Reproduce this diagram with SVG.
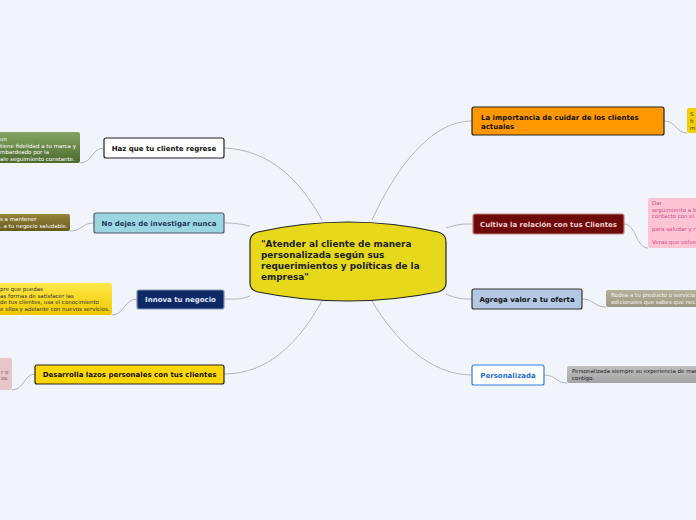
<svg xmlns="http://www.w3.org/2000/svg" width="696" height="520" viewBox="0 0 696 520">
<style>
.n{font-family:"DejaVu Sans",Verdana,sans-serif;font-size:7px;font-weight:bold}
.l{font-family:"DejaVu Sans",Verdana,sans-serif;font-size:5.5px}
.c{fill:none;stroke:#b4b4bc;stroke-width:1}
.b{stroke-width:1.2}
</style>
<defs>
<linearGradient id="g1" x1="0" y1="0" x2="0" y2="1"><stop offset="0" stop-color="#86a664"/><stop offset="1" stop-color="#4a6a2e"/></linearGradient>
<linearGradient id="g2" x1="0" y1="0" x2="0" y2="1"><stop offset="0" stop-color="#958538"/><stop offset="1" stop-color="#675a1e"/></linearGradient>
<linearGradient id="g3" x1="0" y1="0" x2="0" y2="1"><stop offset="0" stop-color="#ffe84a"/><stop offset="1" stop-color="#f0c800"/></linearGradient>
<linearGradient id="g4" x1="0" y1="0" x2="0" y2="1"><stop offset="0" stop-color="#b4b09c"/><stop offset="1" stop-color="#9c9880"/></linearGradient>
<linearGradient id="g5" x1="0" y1="0" x2="0" y2="1"><stop offset="0" stop-color="#c0c0c0"/><stop offset="1" stop-color="#a4a4a4"/></linearGradient>
</defs>
<rect width="696" height="520" fill="#f2f4fc"/>
<g id="connectors">
<path class="c" d="M322,220 C300,180 270,150 224,148"/>
<path class="c" d="M250,226 C240,224 235,223 224,223"/>
<path class="c" d="M250,296 C240,300 235,299 224,299"/>
<path class="c" d="M322,301 C300,340 270,374 224,374"/>
<path class="c" d="M372,220 C395,170 430,121 472,121"/>
<path class="c" d="M446,228 C458,224 462,224 473,224"/>
<path class="c" d="M446,294 C458,299 462,299 472,299"/>
<path class="c" d="M372,301 C395,340 430,375 472,375"/>
<path class="c" d="M104,148 C92,148 92,163 80,163"/>
<path class="c" d="M94,223 C82,223 82,231 70,231"/>
<path class="c" d="M137,299 C124,299 124,315 112,315"/>
<path class="c" d="M35,374 C24,374 24,390 12,390"/>
<path class="c" d="M664,121 C676,121 676,133 687,133"/>
<path class="c" d="M624,224 C636,224 636,248 648,248"/>
<path class="c" d="M582,299 C594,299 594,307 606,307"/>
<path class="c" d="M544,375 C556,375 556,383 567,383"/>
</g>
<g id="center">
<path d="M258,232 Q348,212 438,232 Q446,234 446,242 L446,283 Q446,290 438,292 Q348,310 258,292 Q250,290 250,283 L250,242 Q250,234 258,232 Z" fill="#e6d91c" stroke="#222" stroke-width="1.2"/>
<text class="n" style="font-size:8.9px" fill="#222"><tspan x="261" y="247">"Atender al cliente de manera</tspan><tspan x="261" y="258">personalizada según sus</tspan><tspan x="261" y="269">requerimientos y políticas de la</tspan><tspan x="261" y="280">empresa"</tspan></text>
</g>
<g id="n1"><rect x="104" y="138" width="120" height="20" rx="2" fill="#fff" stroke="#222" class="b"/><text class="n" x="164" y="150.5" text-anchor="middle" fill="#111">Haz que tu cliente regrese</text></g>
<g id="n2"><rect x="94" y="213" width="130" height="20" rx="2" fill="#9dd6e3" stroke="#556" class="b"/><text class="n" x="159" y="225.5" text-anchor="middle" fill="#1d3a5a">No dejes de investigar nunca</text></g>
<g id="n3"><rect x="137" y="290" width="87" height="19" rx="2" fill="#0e2a66" stroke="#8090b0" class="b"/><text class="n" x="180.5" y="302" text-anchor="middle" fill="#e0e8f8">Innova tu negocio</text></g>
<g id="n4"><rect x="35" y="365" width="189" height="19" rx="2" fill="#ffd700" stroke="#222" class="b"/><text class="n" x="129.5" y="377" text-anchor="middle" fill="#111">Desarrolla lazos personales con tus clientes</text></g>
<g id="n5"><rect x="472" y="107" width="192" height="28" rx="2" fill="#ff9800" stroke="#222" class="b"/><text class="n" fill="#111"><tspan x="481" y="120">La importancia de cuidar de los clientes</tspan><tspan x="481" y="129">actuales</tspan></text></g>
<g id="n6"><rect x="473" y="214" width="151" height="20" rx="2" fill="#6e0a0a" stroke="#c08080" class="b"/><text class="n" x="548.5" y="226.5" text-anchor="middle" fill="#f2d0d0">Cultiva la relación con tus Clientes</text></g>
<g id="n7"><rect x="472" y="289" width="110" height="20" rx="2" fill="#b4c8e4" stroke="#333" class="b"/><text class="n" x="527" y="301.5" text-anchor="middle" fill="#111">Agrega valor a tu oferta</text></g>
<g id="n8"><rect x="472" y="365" width="72" height="20" rx="2" fill="#fff" stroke="#2a80e0" class="b"/><text class="n" x="508" y="377.5" text-anchor="middle" fill="#1e6fd0">Personalizada</text></g>
<g id="l1"><rect x="-10" y="132" width="90" height="31" rx="2" fill="url(#g1)"/><text class="l" fill="#fff"><tspan x="0" y="141">un</tspan><tspan x="0" y="147.5">tiene fidelidad a tu marca y</tspan><tspan x="0" y="154">mbardeado por la</tspan><tspan x="0" y="160.5">ale seguimiento constante.</tspan></text></g>
<g id="l2"><rect x="-10" y="214" width="80" height="17" rx="2" fill="url(#g2)"/><text class="l" fill="#fff"><tspan x="0" y="221">s a mantener</tspan><tspan x="0" y="228">. a tu negocio saludable.</tspan></text></g>
<g id="l3"><rect x="-10" y="283" width="122" height="32" rx="2" fill="url(#g3)"/><text class="l" fill="#333"><tspan x="0" y="291">pre que puedas</tspan><tspan x="0" y="297.5">as formas de satisfacer las</tspan><tspan x="0" y="304">de tus clientes, usa el conocimiento</tspan><tspan x="0" y="310.5">e ellos y adelante con nuevos servicios.</tspan></text></g>
<g id="l4"><rect x="-10" y="358" width="22" height="32" rx="2" fill="#e6c6c8"/><text class="l" fill="#8a5a5e"><tspan x="1" y="374">r o</tspan><tspan x="1" y="380">os</tspan></text></g>
<g id="l5"><rect x="687" y="108" width="20" height="25" rx="2" fill="#f2d000"/><text class="l" fill="#333"><tspan x="690" y="116">S</tspan><tspan x="690" y="123">h</tspan><tspan x="690" y="130">m</tspan></text></g>
<g id="l6"><rect x="648" y="198" width="60" height="50" rx="2" fill="#ffc4d4"/><text class="l" fill="#d0508a"><tspan x="652" y="205">Dar</tspan><tspan x="652" y="211.5">seguimiento a b</tspan><tspan x="652" y="217.5">contacto con el</tspan><tspan x="652" y="231">para saludar y r</tspan><tspan x="652" y="244">Veras que volve</tspan></text></g>
<g id="l7"><rect x="606" y="290" width="100" height="17" rx="2" fill="url(#g4)"/><text class="l" fill="#f4f4ee"><tspan x="611" y="297">Rodea a tu producto o servicio</tspan><tspan x="611" y="304">adicionales que sabes que nec</tspan></text></g>
<g id="l8"><rect x="567" y="366" width="140" height="17" rx="2" fill="url(#g5)"/><text class="l" fill="#222"><tspan x="572" y="373">Personalizada siempre su experiencia de mar</tspan><tspan x="572" y="380">contigo.</tspan></text></g>
</svg>
